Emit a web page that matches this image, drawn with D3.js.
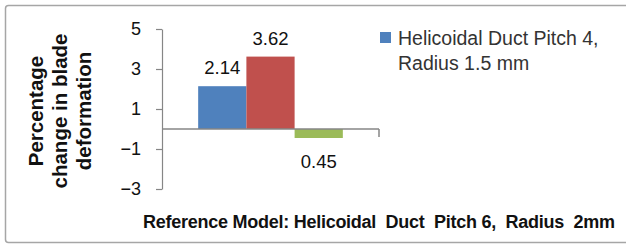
<!DOCTYPE html>
<html>
<head>
<meta charset="utf-8">
<script src="https://cdn.jsdelivr.net/npm/d3@7"></script>
<style>
  html, body { margin: 0; padding: 0; background: #fff; }
  svg { display: block; font-family: "Liberation Sans", Arial, sans-serif; }
</style>
</head>
<body>
<svg id="chart" width="626" height="247"></svg>
<script>
// data
const seriesKeys = ["s1", "s2", "s3"];
const seriesValues = [2.14, 3.62, -0.45];
const seriesColors = ["#4F81BD", "#C0504D", "#9BBB59"];
const legendLines = ["Helicoidal Duct Pitch 4,", "Radius 1.5 mm"];
const yTicks = [5, 3, 1, -1, -3];
const yTitleLines = ["Percentage", "change in blade", "deformation"];
const xTitle = "Reference Model: Helicoidal  Duct  Pitch 6,  Radius  2mm";

const svg = d3.select("#chart");

// outer chart frame (right edge is cut off in the picture)
svg.append("rect")
    .attr("x", 5.5).attr("y", 5.5)
    .attr("width", 640).attr("height", 237)
    .attr("rx", 3)
    .attr("fill", "none")
    .attr("stroke", "#a6a6a6")
    .attr("stroke-width", 1.5);

const plot = { left: 162, right: 379, top: 29, bottom: 189 };

const y = d3.scaleLinear().domain([-3, 5]).range([plot.bottom, plot.top]);
const x = d3.scaleBand()
    .domain(seriesKeys)
    .range([plot.left, plot.right])
    .paddingInner(0)
    .paddingOuter(0.75);

// bars
svg.append("g").selectAll("rect")
    .data(seriesValues)
    .join("rect")
    .attr("x", (d, i) => x(seriesKeys[i]))
    .attr("width", x.bandwidth())
    .attr("y", d => y(Math.max(0, d)))
    .attr("height", d => Math.abs(y(d) - y(0)))
    .attr("fill", (d, i) => seriesColors[i]);

// y axis
const yAxis = svg.append("g")
    .attr("transform", `translate(${plot.left},0)`)
    .call(d3.axisLeft(y).tickValues(yTicks).tickSize(6).tickPadding(15).tickSizeOuter(0));
yAxis.select(".domain").attr("stroke", "#868686").attr("stroke-width", 1.2);
yAxis.selectAll(".tick line").attr("stroke", "#868686").attr("stroke-width", 1.2);
yAxis.selectAll(".tick text")
    .attr("font-size", 18).attr("fill", "#111")
    .attr("font-family", "Liberation Sans, Arial, sans-serif");

// zero line (category axis) with end tick
svg.append("line")
    .attr("x1", plot.left).attr("x2", plot.right)
    .attr("y1", y(0)).attr("y2", y(0))
    .attr("stroke", "#868686").attr("stroke-width", 1.5);
svg.append("line")
    .attr("x1", plot.right).attr("x2", plot.right)
    .attr("y1", y(0)).attr("y2", y(0) + 8)
    .attr("stroke", "#868686").attr("stroke-width", 1.5);

// data labels
const fmt = d3.format(".2f");
svg.append("g").selectAll("text")
    .data(seriesValues)
    .join("text")
    .attr("x", (d, i) => x(seriesKeys[i]) + x.bandwidth() / 2)
    .attr("y", d => d >= 0 ? y(d) - 12 : y(d) + 30)
    .attr("text-anchor", "middle")
    .attr("font-size", 18.5)
    .attr("fill", "#111")
    .text(d => fmt(Math.abs(d)));

// legend (only first entry visible)
const legend = svg.append("g");
legend.append("rect")
    .attr("x", 380).attr("y", 32)
    .attr("width", 11).attr("height", 11)
    .attr("fill", seriesColors[0]);
legend.selectAll("text")
    .data(legendLines)
    .join("text")
    .attr("x", 398)
    .attr("y", (d, i) => 45 + i * 25)
    .attr("font-size", 19.5)
    .attr("fill", "#333")
    .text(d => d);

// y title
const yt = svg.append("text")
    .attr("transform", "translate(0,111) rotate(-90)")
    .attr("text-anchor", "middle")
    .attr("font-size", 20.5)
    .attr("font-weight", "bold")
    .attr("fill", "#111");
yt.selectAll("tspan")
    .data(yTitleLines)
    .join("tspan")
    .attr("x", 0)
    .attr("y", (d, i) => 43 + i * 24)
    .text(d => d);

// x title
svg.append("text")
    .attr("x", 143).attr("y", 228)
    .attr("font-size", 18)
    .attr("font-weight", "bold")
    .attr("fill", "#111")
    .attr("textLength", 472)
    .attr("lengthAdjust", "spacing")
    .style("white-space", "pre")
    .text(xTitle);
</script>
</body>
</html>
